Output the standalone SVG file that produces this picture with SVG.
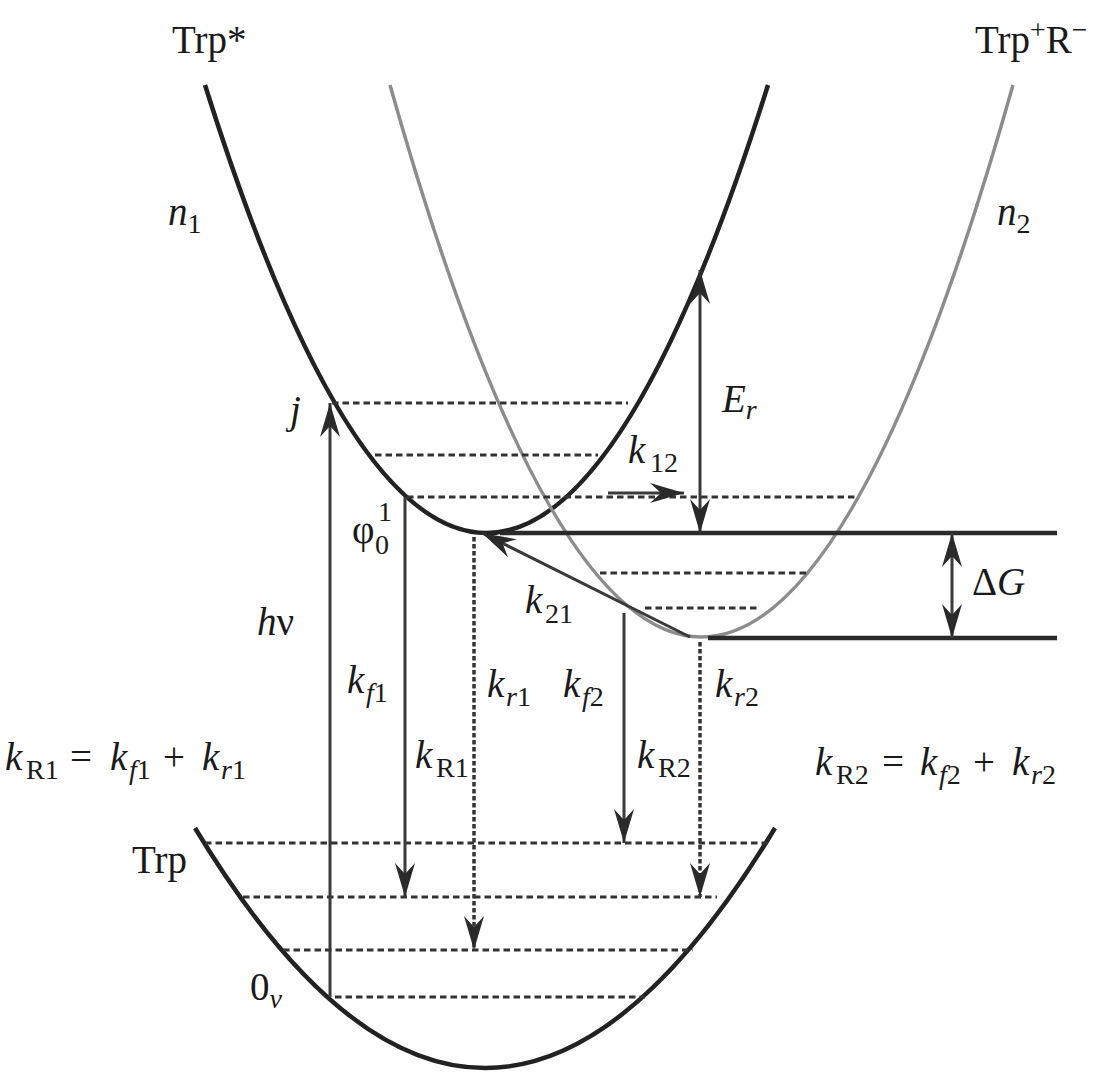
<svg xmlns="http://www.w3.org/2000/svg" width="1111" height="1080" viewBox="0 0 1111 1080">
<style>
text{font-family:"Liberation Serif","Times New Roman",serif;font-size:39px;fill:#1a1a1a}
.i{font-style:italic}
.s{font-size:28px}
.curve{fill:none;stroke:#222;stroke-width:4.5}
.gcurve{fill:none;stroke:#8c8c8c;stroke-width:3.5}
.dash{stroke:#333;stroke-width:3;stroke-dasharray:6.5 4;fill:none}
.dot{stroke:#333;stroke-width:3.5;stroke-dasharray:4.5 2.5;fill:none}
.arr{stroke:#3a3a3a;stroke-width:3;fill:none}
.lvl{stroke:#2a2a2a;stroke-width:4.5;fill:none}
</style>
<defs>
<marker id="ah" markerUnits="userSpaceOnUse" viewBox="-36 -12 38 24" refX="0" refY="0" markerWidth="38" markerHeight="24" orient="auto-start-reverse">
<path d="M0,0 L-34,-10 L-23,0 L-34,10 Z" fill="#2a2a2a"/>
</marker>
</defs>
<g id="curves">
<path id="trp-star" class="curve" d="M205,85 Q486.5,981 768,85"/>
<path id="trp-plus" class="gcurve" d="M390,85 Q701.5,1189 1013,85"/>
<path id="trp-ground" class="curve" d="M195,828 Q485,1308 775,828"/>
</g>
<g id="levels">
<line class="dash" x1="332" y1="403" x2="628" y2="403"/>
<line class="dash" x1="375" y1="455" x2="598" y2="455"/>
<line class="dash" x1="407" y1="497" x2="855" y2="497"/>
<line class="dash" x1="600" y1="573" x2="808" y2="573"/>
<line class="dash" x1="645" y1="608" x2="760" y2="608"/>
<line class="dash" x1="205" y1="843" x2="770" y2="843"/>
<line class="dash" x1="243" y1="897" x2="717" y2="897"/>
<line class="dash" x1="283" y1="950" x2="693" y2="950"/>
<line class="dash" x1="335" y1="997" x2="645" y2="997"/>
<line class="lvl" x1="500" y1="533" x2="1057" y2="533"/>
<line class="lvl" x1="708" y1="638" x2="1057" y2="638"/>
</g>
<g id="connectors">
<line class="arr" x1="330" y1="997" x2="330" y2="403" marker-end="url(#ah)"/>
<line class="arr" x1="405" y1="497" x2="405" y2="897" marker-end="url(#ah)"/>
<line class="dot" x1="474" y1="537" x2="474" y2="950" marker-end="url(#ah)"/>
<line class="arr" x1="624" y1="613" x2="624" y2="843" marker-end="url(#ah)"/>
<line class="dot" x1="700" y1="642" x2="700" y2="897" marker-end="url(#ah)"/>
<line class="arr" x1="700" y1="270" x2="700" y2="533" marker-start="url(#ah)" marker-end="url(#ah)"/>
<line class="arr" x1="952" y1="533" x2="952" y2="638" marker-start="url(#ah)" marker-end="url(#ah)"/>
<line class="arr" x1="608" y1="493" x2="684" y2="493" stroke-width="4" marker-end="url(#ah)"/>
<line class="arr" x1="690" y1="637" x2="482" y2="533" marker-end="url(#ah)"/>
</g>
<g id="labels">
<text x="172" y="53">Trp*</text>
<text x="975" y="53">Trp<tspan class="s" dy="-14">+</tspan><tspan dy="14">R</tspan><tspan class="s" dy="-14">−</tspan></text>
<text x="168" y="225"><tspan class="i">n</tspan><tspan class="s" dy="8">1</tspan></text>
<text x="997" y="225"><tspan class="i">n</tspan><tspan class="s" dy="8">2</tspan></text>
<text x="290" y="423" class="i">j</text>
<text x="352" y="543">φ</text>
<text x="375" y="554" class="s">0</text>
<text x="378" y="521" class="s">1</text>
<text x="722" y="412"><tspan class="i">E</tspan><tspan class="s i" dy="7">r</tspan></text>
<text x="628" y="463"><tspan class="i">k</tspan><tspan class="s" x="650" dy="9">12</tspan></text>
<text x="525" y="613"><tspan class="i">k</tspan><tspan class="s" x="545" dy="10">21</tspan></text>
<text x="972" y="595">Δ<tspan class="i">G</tspan></text>
<text x="257" y="635"><tspan class="i">h</tspan>ν</text>
<text x="347" y="693"><tspan class="i">k</tspan><tspan class="s i" x="366" dy="9">f</tspan><tspan class="s">1</tspan></text>
<text x="487" y="697"><tspan class="i">k</tspan><tspan class="s i" x="506" dy="9">r</tspan><tspan class="s">1</tspan></text>
<text x="563" y="697"><tspan class="i">k</tspan><tspan class="s i" x="582" dy="9">f</tspan><tspan class="s">2</tspan></text>
<text x="715" y="697"><tspan class="i">k</tspan><tspan class="s i" x="734" dy="9">r</tspan><tspan class="s">2</tspan></text>
<text x="415" y="768"><tspan class="i">k</tspan><tspan class="s" x="436" dy="9">R1</tspan></text>
<text x="637" y="768"><tspan class="i">k</tspan><tspan class="s" x="658" dy="9">R2</tspan></text>
<text x="5" y="770"><tspan class="i">k</tspan><tspan class="s" x="26" dy="9">R1</tspan><tspan x="70" dy="-9">=</tspan><tspan class="i" x="110">k</tspan><tspan class="s i" x="129" dy="9">f</tspan><tspan class="s">1</tspan><tspan x="163" dy="-9">+</tspan><tspan class="i" x="202">k</tspan><tspan class="s i" x="221" dy="9">r</tspan><tspan class="s">1</tspan></text>
<text x="815" y="775"><tspan class="i">k</tspan><tspan class="s" x="836" dy="9">R2</tspan><tspan x="882" dy="-9">=</tspan><tspan class="i" x="920">k</tspan><tspan class="s i" x="939" dy="9">f</tspan><tspan class="s">2</tspan><tspan x="973" dy="-9">+</tspan><tspan class="i" x="1012">k</tspan><tspan class="s i" x="1031" dy="9">r</tspan><tspan class="s">2</tspan></text>
<text x="132" y="873">Trp</text>
<text x="250" y="1000">0<tspan class="s i" dy="8">v</tspan></text>
</g>
</svg>
